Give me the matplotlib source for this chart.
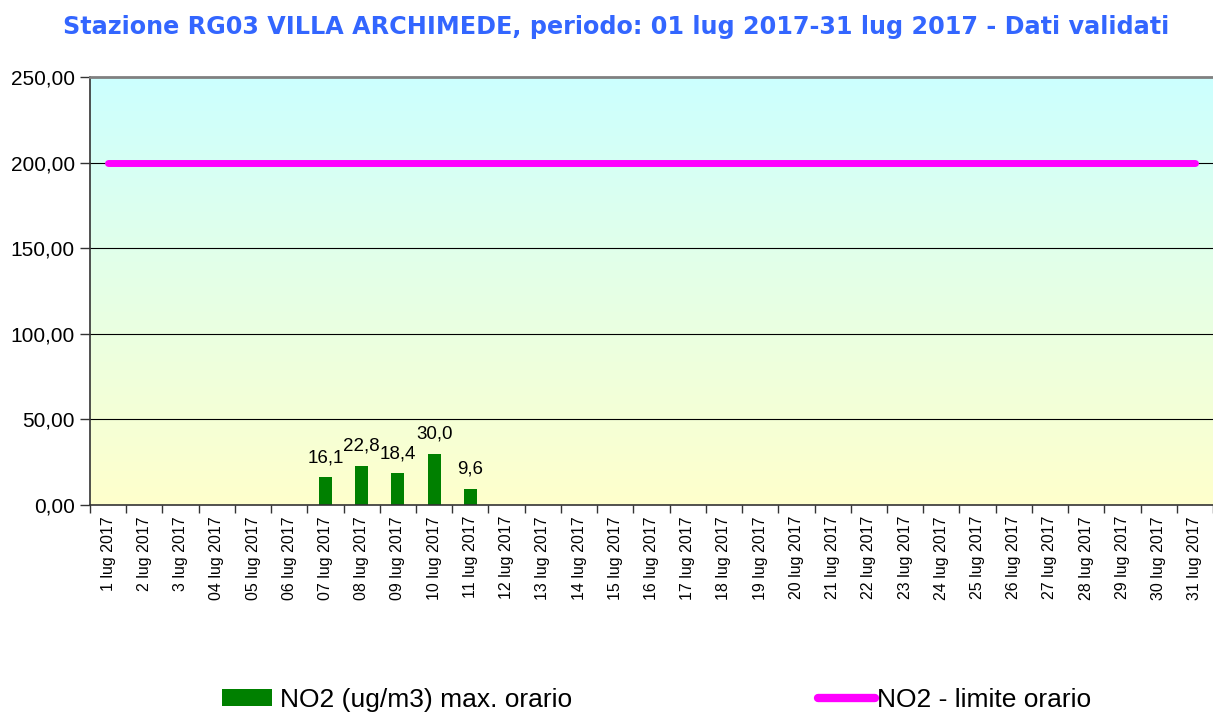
import matplotlib
matplotlib.use("Agg")
import matplotlib.pyplot as plt
import numpy as np
from matplotlib.colors import LinearSegmentedColormap
from matplotlib.lines import Line2D
from matplotlib.patches import Patch

plt.rcParams['font.family'] = ['Liberation Sans', 'DejaVu Sans']

days = ["1 lug 2017", "2 lug 2017", "3 lug 2017", "04 lug 2017", "05 lug 2017",
        "06 lug 2017", "07 lug 2017", "08 lug 2017", "09 lug 2017", "10 lug 2017",
        "11 lug 2017", "12 lug 2017", "13 lug 2017", "14 lug 2017", "15 lug 2017",
        "16 lug 2017", "17 lug 2017", "18 lug 2017", "19 lug 2017", "20 lug 2017",
        "21 lug 2017", "22 lug 2017", "23 lug 2017", "24 lug 2017", "25 lug 2017",
        "26 lug 2017", "27 lug 2017", "28 lug 2017", "29 lug 2017", "30 lug 2017",
        "31 lug 2017"]
no2_max = [None, None, None, None, None, None, 16.1, 22.8, 18.4, 30.0, 9.6] + [None] * 20
limit = [200.0] * 31
yticks = [0, 50, 100, 150, 200, 250]

title = "Stazione RG03 VILLA ARCHIMEDE, periodo: 01 lug 2017-31 lug 2017 - Dati validati"

fig = plt.figure(figsize=(12.13, 7.15), dpi=100)
ax = fig.add_axes([90 / 1213, 1 - 505 / 715, 1 - 90 / 1213, (505 - 77) / 715])

n = len(days)
x = np.arange(n)
ax.set_xlim(-0.5, n - 0.5)
ax.set_ylim(0, 250)

# gradient background
cmap = LinearSegmentedColormap.from_list("bg", ["#FFFFCC", "#CCFFFF"])
grad = np.linspace(0, 1, 256).reshape(-1, 1)
ax.imshow(grad, cmap=cmap, aspect='auto', extent=(-0.5, n - 0.5, 0, 250),
          origin='lower', zorder=0)

for yv in yticks[1:-1]:
    ax.axhline(yv, color='black', lw=0.8, zorder=1)

bx = [i for i, v in enumerate(no2_max) if v is not None]
bv = [v for v in no2_max if v is not None]
ax.bar(bx, bv, width=0.36, color='#008000', zorder=2)
for xi, v in zip(bx, bv):
    ax.annotate(f"{v:.1f}".replace('.', ','), (xi, v), xytext=(0, 8),
                textcoords='offset points', ha='center', va='bottom', fontsize=13.5)

ax.plot(x, limit, color='#FF00FF', lw=5, solid_capstyle='round', zorder=3)

ax.set_yticks(yticks)
ax.set_yticklabels([f"{v:.2f}".replace('.', ',') for v in yticks], fontsize=15)
ax.set_xticks(x)
ax.set_xticklabels(days, rotation=90, fontsize=11.5)
ax.tick_params(axis='x', length=0, pad=8)
ax.set_xticks(np.arange(-0.5, n, 1.0), minor=True)
ax.tick_params(axis='x', which='minor', length=6, width=1, color='#333333')
ax.tick_params(axis='y', length=7, width=1, color='#333333', pad=4)

ax.spines['top'].set_color('#808080')
ax.spines['top'].set_linewidth(2)
ax.spines['right'].set_visible(False)
ax.spines['left'].set_color('#333333')
ax.spines['left'].set_linewidth(1.2)
ax.spines['bottom'].set_color('#333333')
ax.spines['bottom'].set_linewidth(1.2)

fig.text(616 / 1213, 1 - 27 / 715, title, ha='center', va='center',
         fontsize=17.2, fontweight='bold', color='#3366FF', family='DejaVu Sans')

leg_fs = 19
leg1 = fig.legend([Patch(facecolor='#008000', edgecolor='none')],
                  ["NO2 (ug/m3) max. orario"], loc='center left',
                  bbox_to_anchor=(222 / 1213, 1 - 700 / 715), frameon=False,
                  fontsize=leg_fs, handlelength=1.9, handleheight=0.62,
                  handletextpad=0.3, borderpad=0, borderaxespad=0)
leg2 = fig.legend([Line2D([0], [0], color='#FF00FF', lw=6, solid_capstyle='round')],
                  ["NO2 - limite orario"], loc='center left',
                  bbox_to_anchor=(818 / 1213, 1 - 700 / 715), frameon=False,
                  fontsize=leg_fs, handlelength=2.15, handletextpad=0.1,
                  borderpad=0, borderaxespad=0)

fig.savefig("out.png", dpi=100)
